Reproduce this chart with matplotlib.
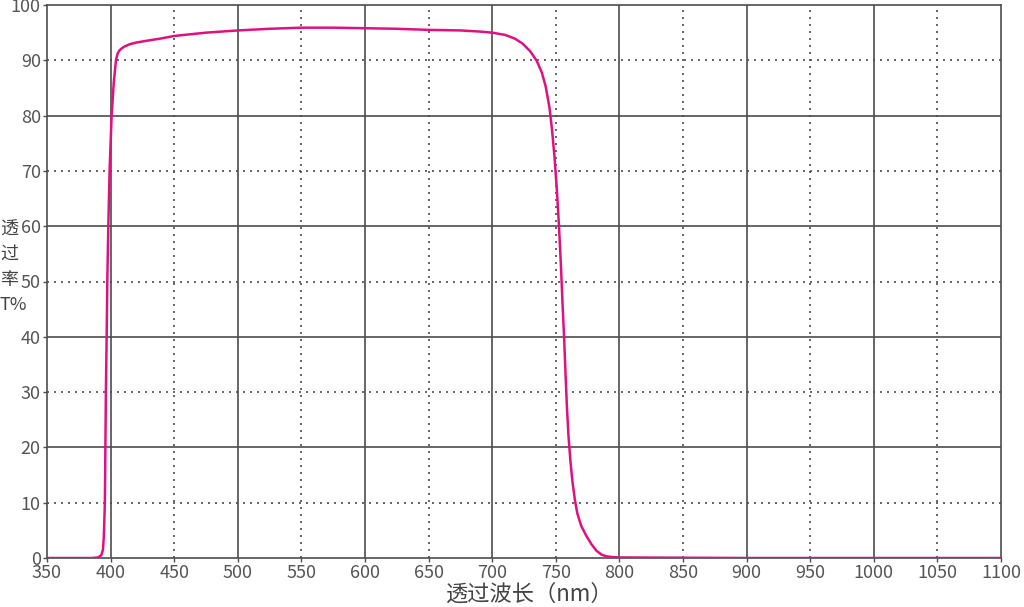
import matplotlib
matplotlib.use("Agg")
import matplotlib.pyplot as plt

plt.rcParams['font.family'] = ['Noto Sans CJK SC', 'DejaVu Sans']

# transmission curve
wavelength = [350, 370, 385, 390, 392.7, 394, 394.7, 395.5, 395.9, 396.3, 396.9, 397.4,
              398.2, 399.2, 400.8, 402.5, 404.2, 405.5, 407, 409, 411, 415, 420, 430,
              438.5, 450, 475, 500, 525, 550, 575, 600, 625, 650, 675, 690, 700, 710,
              718, 724, 730, 735, 739, 742, 745, 747, 749, 751, 752.5, 754, 755.3,
              756.5, 757.7, 758.8, 760, 761.5, 763, 765, 767, 770, 774, 778, 782, 786,
              790, 795, 800, 850, 900, 1000, 1100]
transmit = [0, 0, 0, 0.1, 0.5, 1.5, 4, 10, 20, 30, 40, 50,
            60, 70, 80, 86, 90, 91.2, 91.8, 92.2, 92.5, 92.9, 93.2, 93.6,
            93.9, 94.4, 95.0, 95.4, 95.7, 95.9, 95.9, 95.8, 95.7, 95.5, 95.4, 95.2, 95.0, 94.6,
            93.9, 93.0, 91.6, 89.9, 87.8, 85.3, 81.5, 77.5, 72.5, 66, 60, 53, 46,
            40, 33, 27, 22, 17.5, 14, 10.5, 8, 5.8, 4, 2.5, 1.3, 0.6,
            0.3, 0.15, 0.1, 0.05, 0, 0, 0]

x_ticks = list(range(350, 1101, 50))
y_ticks = list(range(0, 101, 10))

fig = plt.figure(figsize=(10.24, 6.07), dpi=100)
ax = fig.add_axes([47 / 1024, 49 / 607, 954 / 1024, 553 / 607])

grid_c = '#4d4d4d'
for xv in x_ticks[1:-1]:
    if xv % 100 == 0:
        ax.axvline(xv, color=grid_c, lw=1.2, zorder=1)
    else:
        ax.axvline(xv, color=grid_c, lw=1.2, ls=(0, (1.2, 3)), zorder=1)
for yv in y_ticks[1:-1]:
    if yv % 20 == 0:
        ax.axhline(yv, color=grid_c, lw=1.2, zorder=1)
    else:
        ax.axhline(yv, color=grid_c, lw=1.2, ls=(0, (1.2, 3)), zorder=1)

ax.plot(wavelength, transmit, color='#e0117f', lw=1.8, zorder=3)

ax.set_xlim(350, 1100)
ax.set_ylim(0, 100)
ax.set_xticks(x_ticks)
ax.set_yticks(y_ticks)
ax.tick_params(axis='both', colors=grid_c, labelcolor='#555555', labelsize=13,
               length=3, width=1, pad=1.5)
for lab in ax.get_xticklabels() + ax.get_yticklabels():
    lab.set_fontweight('light')
for s in ax.spines.values():
    s.set_color(grid_c)
    s.set_linewidth(1.2)

# stacked axis title on the left
fig.text(0, 1 - 267 / 607, "透\n过\n率\nT%", ha='left', va='center',
         fontsize=13, color='#444444', linespacing=1.5, fontweight='light')
fig.text(530 / 1024, 1 - 594 / 607, "透过波长（nm）", ha='center', va='center',
         fontsize=16, color='#444444', fontweight='light')

fig.savefig("out.png", dpi=100)
